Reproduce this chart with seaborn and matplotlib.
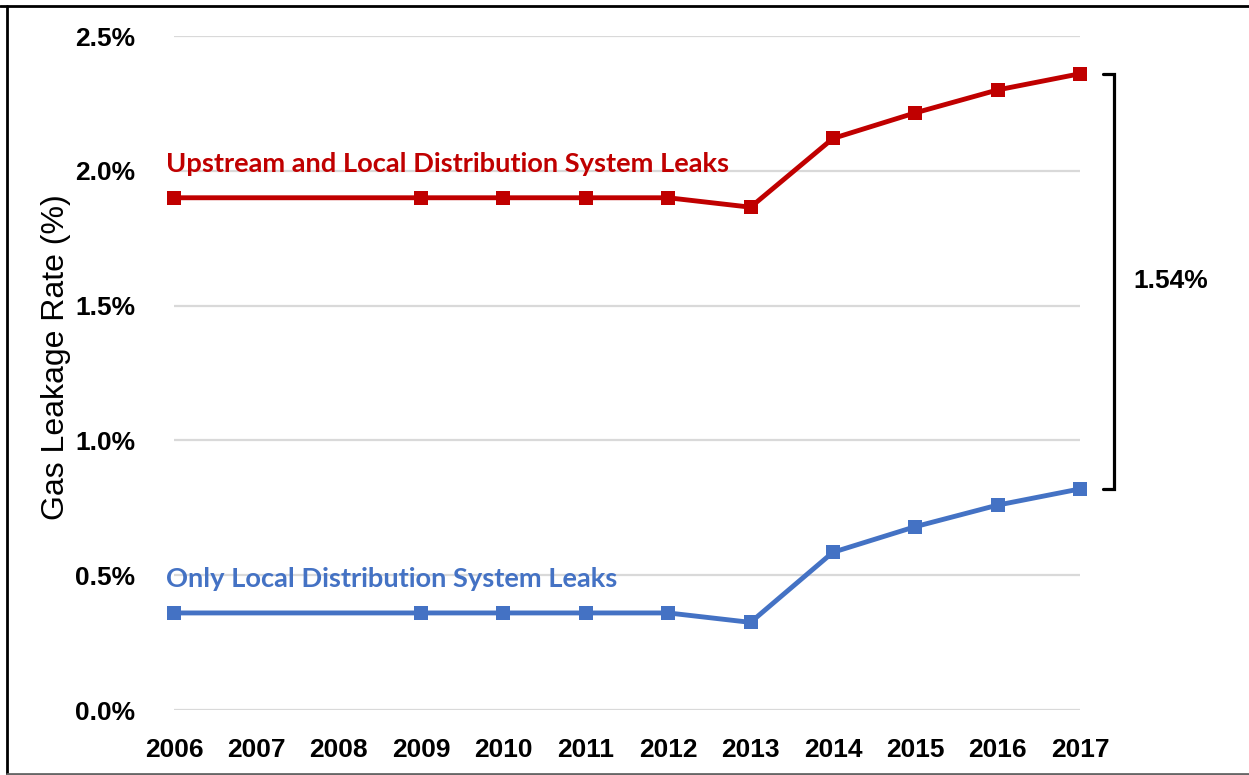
import matplotlib
matplotlib.use("Agg")
import matplotlib.pyplot as plt
import matplotlib.transforms as mtransforms
from matplotlib.lines import Line2D
import seaborn as sns
import pandas as pd

years = [2006, 2009, 2010, 2011, 2012, 2013, 2014, 2015, 2016, 2017]
upstream = [1.90, 1.90, 1.90, 1.90, 1.90, 1.865, 2.12, 2.215, 2.30, 2.36]
local_only = [0.36, 0.36, 0.36, 0.36, 0.36, 0.325, 0.585, 0.68, 0.76, 0.82]
tick_years = list(range(2006, 2018))
y_ticks = [0.0, 0.5, 1.0, 1.5, 2.0, 2.5]
label_up = "Upstream and Local Distribution System Leaks"
label_local = "Only Local Distribution System Leaks"
diff_label = "1.54%"

red = "#C00000"
blue = "#4472C4"

sns.set_theme(style="white")
plt.rcParams['font.family'] = ['Liberation Sans', 'DejaVu Sans']
plt.rcParams['text.color'] = 'black'
plt.rcParams['axes.labelcolor'] = 'black'
plt.rcParams['xtick.color'] = 'black'
plt.rcParams['ytick.color'] = 'black'

df = pd.DataFrame({
    "year": years * 2,
    "rate": upstream + local_only,
    "series": [label_up] * len(years) + [label_local] * len(years),
})

fig = plt.figure(figsize=(12.49, 7.75), dpi=100)
ax = fig.add_axes([174 / 1249, 1 - 710 / 775, (1080 - 174) / 1249, (710 - 36) / 775])

sns.lineplot(data=df, x="year", y="rate", hue="series",
             palette={label_up: red, label_local: blue},
             marker="s", markersize=10, markeredgewidth=0, linewidth=3.5,
             legend=False, ax=ax, zorder=5)
for l in ax.lines:
    l.set_clip_on(False)

ax.set_xlim(2006, 2017)
ax.set_ylim(0, 2.5)
ax.set_xticks(tick_years)
ax.set_xticklabels([str(y) for y in tick_years], fontsize=19, fontweight="bold", color="black")
ax.set_yticks(y_ticks)
ax.set_yticklabels([f"{v:.1f}%" for v in y_ticks], fontsize=19, fontweight="bold", color="black")
ax.tick_params(axis="y", pad=28, length=0)
ax.tick_params(axis="x", pad=20, length=0)
ax.set_xlabel("")
ax.set_ylabel("Gas Leakage Rate (%)", fontsize=23, color="black")
ax.yaxis.set_label_coords((56 - 174) / 906, (710 - 357) / 674)
ax.yaxis.label.set_va("center")
ax.grid(axis="y", color="#D9D9D9", linewidth=1.6)
ax.grid(axis="x", visible=False)
for s in ax.spines.values():
    s.set_visible(False)

# series annotations
tr = mtransforms.blended_transform_factory(ax.transAxes, ax.transData)
ax.text(-0.009, 2.025, label_up, transform=tr,
        color=red, fontsize=19.6, fontfamily=['Lato', 'DejaVu Sans'], fontweight="bold", va="center", ha="left")
ax.text(-0.009, 0.486, label_local, transform=tr,
        color=blue, fontsize=19.6, fontfamily=['Lato', 'DejaVu Sans'], fontweight="bold", va="center", ha="left")

# bracket
xb = (1114 - 174) / 906
xt = (1103 - 174) / 906
top = upstream[-1]
bot = local_only[-1]
ax.add_line(Line2D([xt, xb, xb, xt], [top, top, bot, bot], transform=tr, color="black",
                   linewidth=2.3, clip_on=False, solid_joinstyle="miter"))
ax.text((1133 - 174) / 906, (top + bot) / 2, diff_label, transform=tr, fontsize=19,
        fontweight="bold", va="center", ha="left", color="black")

# figure frame
fig.add_artist(Line2D([0, 1], [1 - 6 / 775, 1 - 6 / 775], transform=fig.transFigure, color="black", linewidth=2))
fig.add_artist(Line2D([7 / 1249, 7 / 1249], [1 / 775, 1 - 6 / 775], transform=fig.transFigure, color="black", linewidth=2))
fig.add_artist(Line2D([7 / 1249, 1], [1.2 / 775, 1.2 / 775], transform=fig.transFigure, color="#666666", linewidth=2))

fig.savefig("out.png", dpi=100)
